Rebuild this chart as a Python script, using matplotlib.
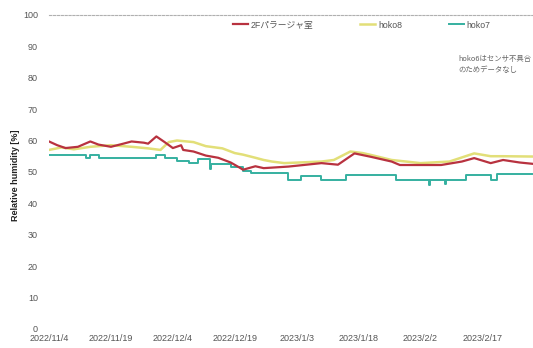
import matplotlib
matplotlib.use("Agg")
import matplotlib.pyplot as plt
import pandas as pd

plt.rcParams["font.family"] = ["Liberation Sans", "Noto Sans CJK JP", "DejaVu Sans"]

# Relative humidity readings (%), key points per sensor
room_dates = ["2022-11-04", "2022-11-06", "2022-11-08", "2022-11-11", "2022-11-14",
              "2022-11-16", "2022-11-19", "2022-11-22", "2022-11-24", "2022-11-27",
              "2022-11-28", "2022-11-30", "2022-12-02", "2022-12-04", "2022-12-06",
              "2022-12-06 12:00", "2022-12-09", "2022-12-12", "2022-12-15", "2022-12-18",
              "2022-12-20", "2022-12-21", "2022-12-24", "2022-12-26", "2023-01-01",
              "2023-01-09", "2023-01-13", "2023-01-17", "2023-01-21", "2023-01-26",
              "2023-01-28", "2023-02-07", "2023-02-12", "2023-02-15", "2023-02-19",
              "2023-02-22", "2023-02-26", "2023-03-01"]
room_rh = [59.7, 58.5, 57.6, 58.0, 59.7,
           58.7, 58.0, 59.0, 59.7, 59.3,
           59.0, 61.3, 59.5, 57.6, 58.5,
           57.0, 56.5, 55.2, 54.5, 53.0,
           51.5, 50.7, 51.8, 51.2, 51.7,
           52.8, 52.3, 55.9, 54.8, 53.3,
           52.2, 52.2, 53.3, 54.4, 52.8,
           53.8, 53.0, 52.6]

hoko8_dates = ["2022-11-04", "2022-11-07", "2022-11-10", "2022-11-14", "2022-11-19",
               "2022-11-24", "2022-11-28", "2022-12-01", "2022-12-03", "2022-12-05",
               "2022-12-09", "2022-12-12", "2022-12-16", "2022-12-19", "2022-12-21",
               "2022-12-24", "2022-12-26", "2022-12-28", "2022-12-31", "2023-01-09",
               "2023-01-12", "2023-01-16", "2023-01-19", "2023-01-21", "2023-01-26",
               "2023-02-02", "2023-02-09", "2023-02-15", "2023-02-19", "2023-02-22",
               "2023-03-01"]
hoko8_rh = [57.0, 57.8, 57.2, 58.0, 58.5,
            58.0, 57.5, 57.0, 59.5, 60.0,
            59.5, 58.2, 57.5, 56.0, 55.5,
            54.5, 53.8, 53.3, 52.8, 53.3,
            53.8, 56.5, 56.0, 55.4, 53.8,
            52.8, 53.3, 55.9, 55.0, 55.0,
            54.9]

hoko7_dates = ["2022-11-04", "2022-11-13", "2022-11-14", "2022-11-16", "2022-11-30",
               "2022-12-02", "2022-12-05", "2022-12-08", "2022-12-10", "2022-12-13",
               "2022-12-13 08:00", "2022-12-18", "2022-12-21", "2022-12-23", "2023-01-01",
               "2023-01-04", "2023-01-09", "2023-01-15", "2023-01-27", "2023-02-04",
               "2023-02-04 06:00", "2023-02-08", "2023-02-08 06:00", "2023-02-13",
               "2023-02-19", "2023-02-20 12:00", "2023-03-01"]
hoko7_rh = [55.4, 54.3, 55.5, 54.3, 55.5,
            54.3, 53.6, 52.9, 54.0, 51.0,
            52.4, 51.6, 50.3, 49.6, 47.5,
            48.6, 47.5, 49.0, 47.5, 45.7,
            47.5, 46.0, 47.5, 49.0,
            47.5, 49.2, 49.2]

tick_dates = ["2022-11-04", "2022-11-19", "2022-12-04", "2022-12-19",
              "2023-01-03", "2023-01-18", "2023-02-02", "2023-02-17"]
tick_labels = ["2022/11/4", "2022/11/19", "2022/12/4", "2022/12/19",
               "2023/1/3", "2023/1/18", "2023/2/2", "2023/2/17"]
y_ticks = [0, 10, 20, 30, 40, 50, 60, 70, 80, 90, 100]

series_names = ["2Fパラージャ室", "hoko8", "hoko7"]
note_lines = ["hoko6はセンサ不具合", "のためデータなし"]


def to_time(values):
    return pd.to_datetime(values, format="mixed")


fig = plt.figure(figsize=(5.33, 3.48), dpi=100)
ax = fig.add_axes([0.092, 0.055, 0.908, 0.902])

ax.plot(to_time(room_dates), room_rh, color="#b8323f", lw=1.6,
        label=series_names[0], zorder=3)
ax.plot(to_time(hoko8_dates), hoko8_rh, color="#e2df78", lw=1.8,
        label=series_names[1], zorder=2)
ax.plot(to_time(hoko7_dates), hoko7_rh, color="#35b0a0", lw=1.4,
        drawstyle="steps-post", label=series_names[2], zorder=2)

ax.set_ylim(0, 100)
ax.set_xlim(pd.Timestamp("2022-11-04"), pd.Timestamp("2023-03-01 06:00"))
ax.set_yticks(y_ticks)
ax.set_xticks(to_time(tick_dates))
ax.set_xticklabels(tick_labels)
ax.tick_params(axis="both", length=0, labelsize=6.5, colors="#555555")
ax.tick_params(axis="y", pad=8)
ax.tick_params(axis="x", pad=4)

for side in ("left", "right", "bottom"):
    ax.spines[side].set_visible(False)
ax.spines["top"].set_color("#b0b0b0")
ax.spines["top"].set_linestyle((0, (2, 1.5)))
ax.spines["top"].set_linewidth(0.8)

ax.set_ylabel("Relative humidity [%]", fontsize=6.5, fontweight="bold",
              color="#222222")
ax.yaxis.set_label_coords(-0.06, 0.49)

fig.legend(loc="center left", bbox_to_anchor=(0.437, 0.928), ncol=3, frameon=False,
           fontsize=6.3, handlelength=1.7, handletextpad=0.3, columnspacing=5.4,
           borderpad=0, borderaxespad=0, labelcolor="#555555")

note_font = ["Noto Sans CJK JP", "DejaVu Sans"]
ax.text(0.845, 0.86, note_lines[0], transform=ax.transAxes, fontsize=5.3,
        va="center", color="#666666", family=note_font)
ax.text(0.845, 0.825, note_lines[1], transform=ax.transAxes, fontsize=5.3,
        va="center", color="#666666", family=note_font)

fig.savefig("out.png", dpi=100)
